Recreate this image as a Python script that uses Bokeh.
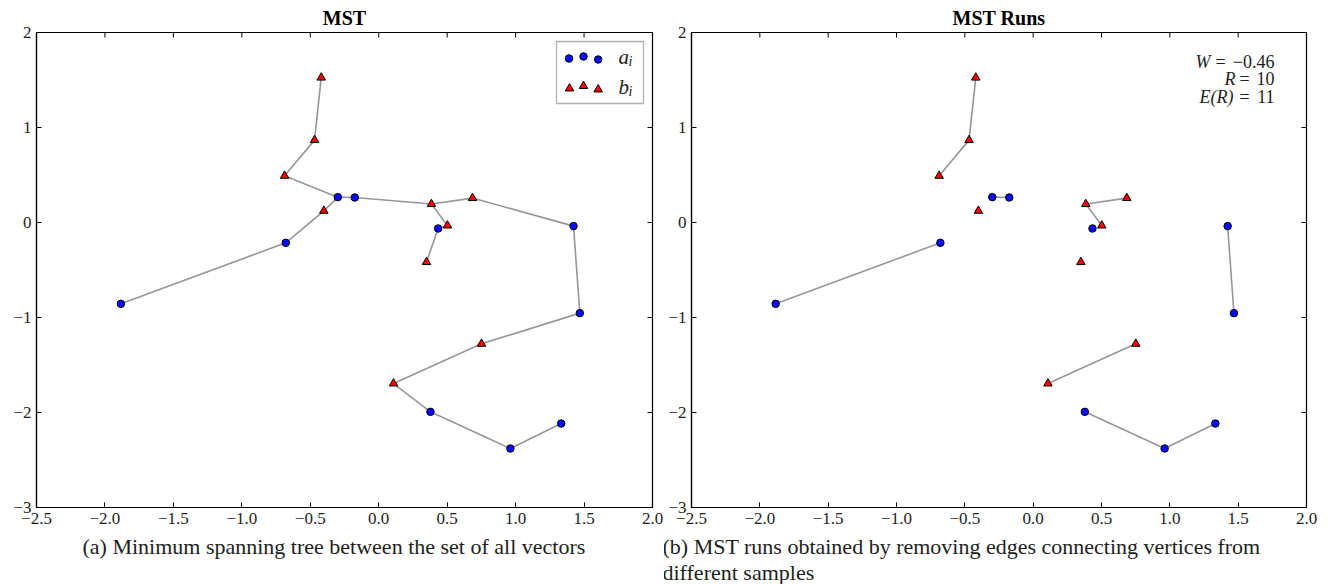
import math

from bokeh.plotting import figure
from bokeh.models import Range1d, FixedTicker, Label, BoxAnnotation, ColumnDataSource, Title
from bokeh.layouts import row
from bokeh.embed import file_html
from bokeh.resources import INLINE

# ---- data -----------------------------------------------------------------
# sample a (circles)
a_x = [-1.884, -0.679, -0.299, -0.175, 0.434, 1.423, 1.469, 0.378, 0.962, 1.333]
a_y = [-0.856, -0.214, 0.267, 0.263, -0.063, -0.038, -0.954, -1.993, -2.379, -2.116]
# sample b (triangles)
b_x = [-0.420, -0.469, -0.688, -0.401, 0.385, 0.685, 0.502, 0.349, 0.751, 0.108]
b_y = [1.525, 0.867, 0.491, 0.123, 0.194, 0.257, -0.032, -0.417, -1.277, -1.695]

# edges of the minimum spanning tree over the pooled sample
mst_edges = [("a0", "a1"), ("a1", "b3"), ("b3", "a2"), ("b2", "a2"), ("b2", "b1"),
             ("b1", "b0"), ("a2", "a3"), ("a3", "b4"), ("b4", "b5"), ("b4", "b6"),
             ("b6", "a4"), ("a4", "b7"), ("b5", "a5"), ("a5", "a6"), ("a6", "b8"),
             ("b8", "b9"), ("b9", "a7"), ("a7", "a8"), ("a8", "a9")]

# Friedman-Rafsky statistic shown on the runs panel
W_stat = -0.46

x_ticks = [-2.5, -2.0, -1.5, -1.0, -0.5, 0.0, 0.5, 1.0, 1.5, 2.0]
x_tick_labels = ["\u22122.5", "\u22122.0", "\u22121.5", "\u22121.0", "\u22120.5",
                 "0.0", "0.5", "1.0", "1.5", "2.0"]
y_ticks = [-3, -2, -1, 0, 1, 2]
y_tick_labels = ["\u22123", "\u22122", "\u22121", "0", "1", "2"]

# ---- helpers --------------------------------------------------------------
X0, X1 = -2.5, 2.0
Y0, Y1 = -3.0, 2.0
FRAME_H = 475
TOP = 32
BOTTOM = 77
FONT = "Liberation Serif"
INK = "#1e1e1e"

nodes = {}
for i, (x, y) in enumerate(zip(a_x, a_y)):
    nodes["a%d" % i] = (x, y)
for i, (x, y) in enumerate(zip(b_x, b_y)):
    nodes["b%d" % i] = (x, y)

run_edges = [e for e in mst_edges if e[0][0] == e[1][0]]
n_a, n_b = len(a_x), len(b_x)
R_runs = n_a + n_b - len(run_edges)
E_runs = 2 * n_a * n_b / (n_a + n_b) + 1


def edge_source(edges):
    return ColumnDataSource(dict(
        x0=[nodes[u][0] for u, v in edges], y0=[nodes[u][1] for u, v in edges],
        x1=[nodes[v][0] for u, v in edges], y1=[nodes[v][1] for u, v in edges]))


def make_panel(frame_w, left, right, edges, title):
    p = figure(x_range=Range1d(X0, X1), y_range=Range1d(Y0, Y1),
               frame_width=frame_w, frame_height=FRAME_H,
               min_border_left=left, min_border_right=right,
               min_border_top=TOP, min_border_bottom=BOTTOM,
               output_backend="svg", toolbar_location=None)
    p.grid.visible = False
    p.outline_line_color = "black"
    p.outline_line_width = 1.2

    p.title.text = title
    p.title.align = "center"
    p.title.text_font = FONT
    p.title.text_font_size = "20px"
    p.title.text_font_style = "bold"
    p.title.text_color = "black"
    p.title.standoff = 8

    for ax, ticks, labels in ((p.xaxis[0], x_ticks, x_tick_labels),
                              (p.yaxis[0], y_ticks, y_tick_labels)):
        ax.ticker = FixedTicker(ticks=ticks)
        ax.major_label_overrides = {t: l for t, l in zip(ticks, labels)}
        ax.major_tick_in = 5
        ax.major_tick_out = 0
        ax.major_tick_line_color = "black"
        ax.minor_tick_line_color = None
        ax.axis_line_color = "black"
        ax.axis_line_width = 1.2
        ax.major_label_text_font = FONT
        ax.major_label_text_color = INK
        ax.major_label_text_font_size = "17px"
        ax.major_label_standoff = 5

    # inward ticks on the top and right spines (the frame clips the outer half)
    p.scatter(x_ticks, [Y1] * len(x_ticks), marker="dash", size=10,
              angle=math.pi / 2, line_color="black", line_width=1)
    p.scatter([X1] * len(y_ticks), y_ticks, marker="dash", size=10,
              line_color="black", line_width=1)

    p.segment("x0", "y0", "x1", "y1", source=edge_source(edges),
              line_color="#979797", line_width=1.6)
    p.scatter(a_x, a_y, marker="circle", size=7.5, fill_color="#0a0aff",
              line_color="black", line_width=1)
    p.scatter(b_x, b_y, marker="triangle", size=8.5, fill_color="#ff0000",
              line_color="black", line_width=1)

    kx = frame_w / (X1 - X0)
    ky = FRAME_H / (Y1 - Y0)

    def at(px, py):
        # pixel offsets from the frame's top-left corner -> data coordinates
        return X0 + px / kx, Y1 - py / ky

    return p, at


def text(p, at, px, py, s, size, align="left", style="normal", color=INK):
    x, y = at(px, py)
    p.add_layout(Label(x=x, y=y, text=s, text_font=FONT, text_font_size=size,
                       text_align=align, text_baseline="middle",
                       text_font_style=style, text_color=color))


def caption(p, s, offset):
    p.add_layout(Title(text=s, align="left", vertical_align="top", offset=offset,
                       standoff=14, text_font=FONT, text_font_size="22px",
                       text_line_height=1.05, text_font_style="normal",
                       text_color=INK), "below")


# ---- left panel: full MST -------------------------------------------------
FW_L = 616
pl, at_l = make_panel(FW_L, 36, 12, mst_edges, "MST")

# legend box with three sample markers per entry
bx0, by0 = at_l(FW_L - 96, 9)
bx1, by1 = at_l(FW_L - 9, 71)
pl.add_layout(BoxAnnotation(left=bx0, right=bx1, top=by0, bottom=by1,
                            fill_color="white", fill_alpha=1,
                            line_color="black", line_width=1.3, level="underlay"))
leg_a = [at_l(FW_L - 83.5, 26), at_l(FW_L - 69, 24), at_l(FW_L - 54.3, 27)]
leg_b = [at_l(FW_L - 83, 56), at_l(FW_L - 69, 53.5), at_l(FW_L - 54.3, 57)]
pl.scatter([q[0] for q in leg_a], [q[1] for q in leg_a], marker="circle", size=7.5,
           fill_color="#0a0aff", line_color="black", line_width=1)
pl.scatter([q[0] for q in leg_b], [q[1] for q in leg_b], marker="triangle", size=8.5,
           fill_color="#ff0000", line_color="black", line_width=1)
text(pl, at_l, FW_L - 34, 24, "a", "21px", "left", "italic")
text(pl, at_l, FW_L - 24, 29, "i", "14px", "left", "italic")
text(pl, at_l, FW_L - 34, 54, "b", "21px", "left", "italic")
text(pl, at_l, FW_L - 24, 59, "i", "14px", "left", "italic")

caption(pl, "(a) Minimum spanning tree between the set of all vectors", 46)

# ---- right panel: runs after removing cross-sample edges -------------------
FW_R = 615
pr, at_r = make_panel(FW_R, 27, 29, run_edges, "MST Runs")

w_text = ("\u2212%.2f" % abs(W_stat)) if W_stat < 0 else ("%.2f" % W_stat)
stats = [("W", w_text, 29, -96, -86),
         ("R", "%d" % R_runs, 46, -71, -62),
         ("E(R)", "%d" % round(E_runs), 64, -73, -62)]
for var, val, py, var_end, eq_c in stats:
    text(pr, at_r, FW_R + var_end, py, var, "18px", "right", "italic")
    text(pr, at_r, FW_R + eq_c, py, "=", "18px", "center", "normal")
    text(pr, at_r, FW_R - 32, py, val, "18px", "right", "normal")

caption(pr, "(b) MST runs obtained by removing edges connecting vertices from\n"
            "different samples", -29)

layout = row(pl, pr)
open("out.html", "w").write(file_html(layout, INLINE))
